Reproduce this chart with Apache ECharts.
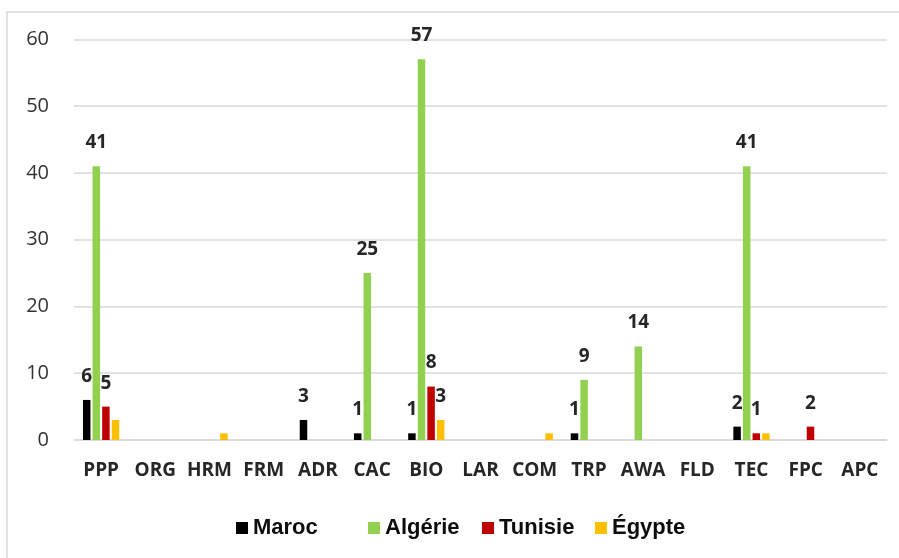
<!DOCTYPE html>
<html>
<head>
<meta charset="utf-8">
<script src="https://cdn.jsdelivr.net/npm/echarts@6/dist/echarts.min.js"></script>
<style>
  html, body { margin: 0; padding: 0; background: #ffffff; }
  #chart { width: 899px; height: 558px; }
</style>
</head>
<body>
<div id="chart"></div>
<script>
// Categories along the x axis
const categories = ['PPP', 'ORG', 'HRM', 'FRM', 'ADR', 'CAC', 'BIO', 'LAR', 'COM', 'TRP', 'AWA', 'FLD', 'TEC', 'FPC', 'APC'];

// Counts per country
const maroc   = [6, 0, 0, 0, 3, 1, 1, 0, 0, 1, 0, 0, 2, 0, 0];
const algerie = [41, 0, 0, 0, 0, 25, 57, 0, 0, 9, 14, 0, 41, 0, 0];
const tunisie = [5, 0, 0, 0, 0, 0, 8, 0, 0, 0, 0, 0, 1, 2, 0];
const egypte  = [3, 0, 1, 0, 0, 0, 3, 0, 1, 0, 0, 0, 1, 0, 0];

// Categories where the value label is printed, per series
const marocLabelled   = ['PPP', 'ADR', 'CAC', 'BIO', 'TRP', 'TEC'];
const algerieLabelled = ['PPP', 'CAC', 'BIO', 'TRP', 'AWA', 'TEC'];
const tunisieLabelled = ['PPP', 'BIO', 'TEC', 'FPC'];
const egypteLabelled  = ['BIO'];

// Series names, in legend order
const seriesNames = ['Maroc', 'Algérie', 'Tunisie', 'Égypte'];

// Y axis range
const yMin = 0, yMax = 60, yStep = 10;

const labelFont = {
  fontFamily: '"Open Sans", sans-serif',
  fontWeight: 'bold',
  fontSize: 19,
  color: '#262626'
};

function toData(values, labelled) {
  return values.map((v, i) => ({
    value: v,
    label: { show: labelled.includes(categories[i]) }
  }));
}

function makeSeries(name, color, values, labelled) {
  return {
    name: name,
    type: 'bar',
    barWidth: 7.5,
    barGap: '28%',
    itemStyle: { color: color },
    label: Object.assign({ position: 'top', distance: 14 }, labelFont),
    data: toData(values, labelled)
  };
}

// One legend block per country so the entries sit at their own offsets
const legendLeft = [231, 363, 477, 590];
const legends = seriesNames.map((name, i) => ({
  left: legendLeft[i],
  top: 512,
  itemWidth: 12,
  itemHeight: 12,
  itemGap: 0,
  icon: 'rect',
  data: [name],
  textStyle: {
    fontFamily: '"Liberation Sans", Arial, sans-serif',
    fontWeight: 'bold',
    fontSize: 22,
    color: '#0d0d0d'
  }
}));

const chart = echarts.init(document.getElementById('chart'));

chart.setOption({
  animation: false,
  backgroundColor: '#ffffff',
  graphic: [{
    type: 'rect',
    shape: { x: 7, y: 12, width: 1000, height: 1000 },
    style: { fill: 'none', stroke: '#d9d9d9', lineWidth: 1.5 },
    silent: true
  }],
  grid: { left: 74, right: 12, top: 39.3, bottom: 118, containLabel: false },
  legend: legends,
  xAxis: {
    type: 'category',
    data: categories,
    axisLine: { show: true, lineStyle: { color: '#d9d9d9', width: 1.5 } },
    axisTick: { show: false },
    axisLabel: {
      margin: 21,
      interval: 0,
      fontFamily: '"Open Sans", sans-serif',
      fontWeight: 'bold',
      fontSize: 19,
      color: '#262626'
    }
  },
  yAxis: {
    type: 'value',
    min: yMin,
    max: yMax,
    interval: yStep,
    axisLine: { show: false },
    axisTick: { show: false },
    splitLine: { lineStyle: { color: '#d9d9d9', width: 1.5 } },
    axisLabel: {
      margin: 25,
      fontFamily: '"Open Sans", sans-serif',
      fontSize: 20,
      color: '#333333'
    }
  },
  series: [
    makeSeries(seriesNames[0], '#000000', maroc, marocLabelled),
    makeSeries(seriesNames[1], '#92D050', algerie, algerieLabelled),
    makeSeries(seriesNames[2], '#C00000', tunisie, tunisieLabelled),
    makeSeries(seriesNames[3], '#FFC000', egypte, egypteLabelled)
  ]
});
</script>
</body>
</html>
